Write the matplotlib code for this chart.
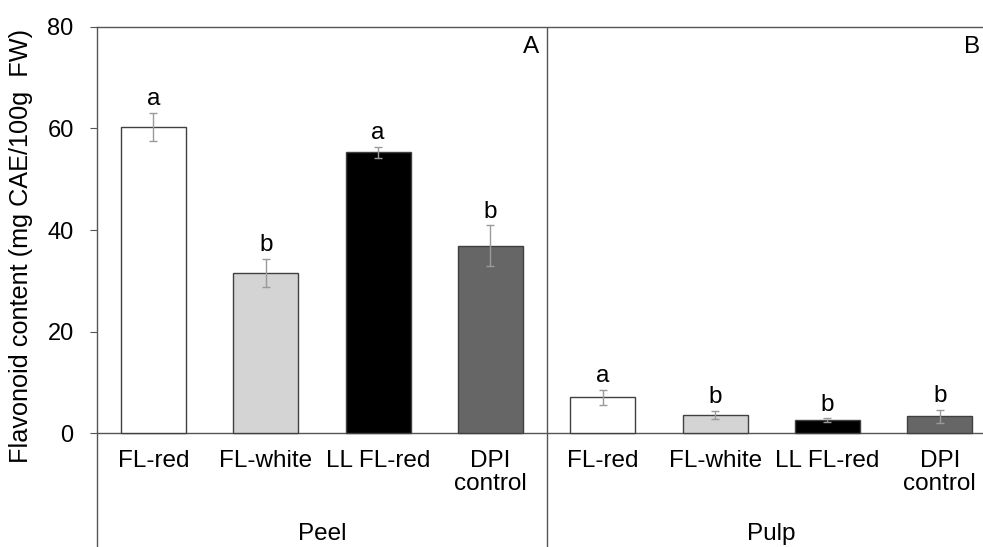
import matplotlib
matplotlib.use("Agg")
import matplotlib.pyplot as plt
import numpy as np

plt.rcParams["font.family"] = ["Liberation Sans", "DejaVu Sans"]

treatments = ["FL-red", "FL-white", "LL FL-red", "DPI\ncontrol"]
tissues = ["Peel", "Pulp"]
peel_mean = [60.3, 31.5, 55.3, 36.9]
peel_err = [2.8, 2.8, 1.1, 4.0]
pulp_mean = [7.1, 3.6, 2.6, 3.3]
pulp_err = [1.5, 0.8, 0.3, 1.35]
peel_sig = ["a", "b", "a", "b"]
pulp_sig = ["a", "b", "b", "b"]
panel_tags = ["A", "B"]
bar_colors = ["#ffffff", "#d4d4d4", "#000000", "#666666"]

AX_C = "#555555"
FS = 17.5

fig = plt.figure(figsize=(9.83, 5.47), dpi=100)
ax = fig.add_axes([97.3 / 983, 0.0, (996 - 97.3) / 983, (547 - 26.8) / 547])

means = peel_mean + pulp_mean
errs = peel_err + pulp_err
sigs = peel_sig + pulp_sig
x = np.arange(len(means))
ax.bar(x, means, width=0.58, color=bar_colors * 2, edgecolor="#404040",
       linewidth=1.0, zorder=2)
ax.errorbar(x, means, yerr=errs, fmt="none", ecolor="#9a9a9a", elinewidth=1.0,
            capsize=3, capthick=1.0, zorder=3)
for xi, m, e, s in zip(x, means, errs, sigs):
    ax.text(xi, m + e + 0.5, s, ha="center", va="bottom", fontsize=FS)

ax.set_xlim(-0.5, 7.5)
ax.set_ylim(-22.4, 80)
ax.axhline(0, color=AX_C, lw=1.0, zorder=1)
ax.axvline(3.5, color=AX_C, lw=1.0, zorder=1)

for sp in ["bottom", "right"]:
    ax.spines[sp].set_visible(False)
for sp in ["left", "top"]:
    ax.spines[sp].set_color(AX_C)
    ax.spines[sp].set_linewidth(1.0)

ax.set_yticks([0, 20, 40, 60, 80])
ax.tick_params(axis="y", direction="out", length=5, color=AX_C, labelsize=17, pad=12)
ax.set_xticks([])

# treatment labels under each bar, tissue label under each panel
for xi, lab in zip(x, treatments * 2):
    ax.text(xi, -3.3, lab, ha="center", va="top", fontsize=FS, linespacing=1.05)
for i, t in enumerate(tissues):
    ax.text(1.5 + 4 * i, -19.8, t, ha="center", va="center", fontsize=FS)
ax.text(3.43, 78.2, panel_tags[0], ha="right", va="top", fontsize=FS)
ax.text(7.36, 78.2, panel_tags[1], ha="right", va="top", fontsize=FS)

ax.set_ylabel("Flavonoid content (mg CAE/100g  FW)", fontsize=18.2)
ax.yaxis.set_label_coords(-0.071, 0.579)

fig.savefig("out.png", dpi=100)
